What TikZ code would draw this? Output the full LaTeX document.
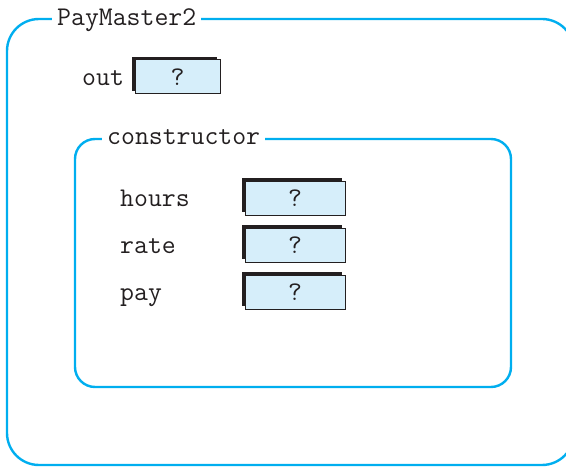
\documentclass[tikz,border=0pt]{standalone}
\usepackage{fontspec}
\usepackage{tikz}
\usetikzlibrary{
	positioning,
	shadows
}

\definecolor{frameblue}{RGB}{0,174,239}
\definecolor{slotfill}{RGB}{214,238,250}
\definecolor{ink}{RGB}{35,31,32}

\begin{document}
\begin{tikzpicture}[
		x=1pt, y=-1pt,
		every node/.style={font=\ttfamily\fontsize{27}{32}\selectfont, text=ink},
		frame/.style={draw=frameblue, line width=2.4pt},
		title/.style={fill=white, inner xsep=5pt, inner ysep=1pt, anchor=base west},
		field/.style={anchor=base west, inner sep=0pt},
		slot/.style={draw=ink, line width=1pt, fill=slotfill, minimum height=34pt,
			general shadow={fill=ink, shadow xshift=-3pt, shadow yshift=3pt}},
		node distance=12pt
	]
	\useasboundingbox (0,0) rectangle (566,468);

	% class and constructor frames
	\draw[frame, rounded corners=32pt] (7,19) rectangle (574,465);
	\draw[frame, rounded corners=20pt] (75,139) rectangle (511,387);
	\node[title] (class) at (52,26) {PayMaster2};
	\node[title] (ctor) at (102,145) {constructor};

	% columns for the variable names
	\coordinate (outcol) at (82,0);
	\coordinate (varcol) at (120,0);

	% field of the class
	\node[slot, minimum width=85pt] (outval) at (177.5,77) {?};
	\node[field] (out) at (outval.base -| outcol) {out};

	% locals of the constructor
	\node[slot, minimum width=100pt] (hoursval) at (295,198.5) {?};
	\node[slot, minimum width=100pt, below=of hoursval] (rateval) {?};
	\node[slot, minimum width=100pt, below=of rateval] (payval) {?};
	\node[field] (hours) at (hoursval.base -| varcol) {hours};
	\node[field] (rate) at (rateval.base -| varcol) {rate};
	\node[field] (pay) at (payval.base -| varcol) {pay};
\end{tikzpicture}
\end{document}
